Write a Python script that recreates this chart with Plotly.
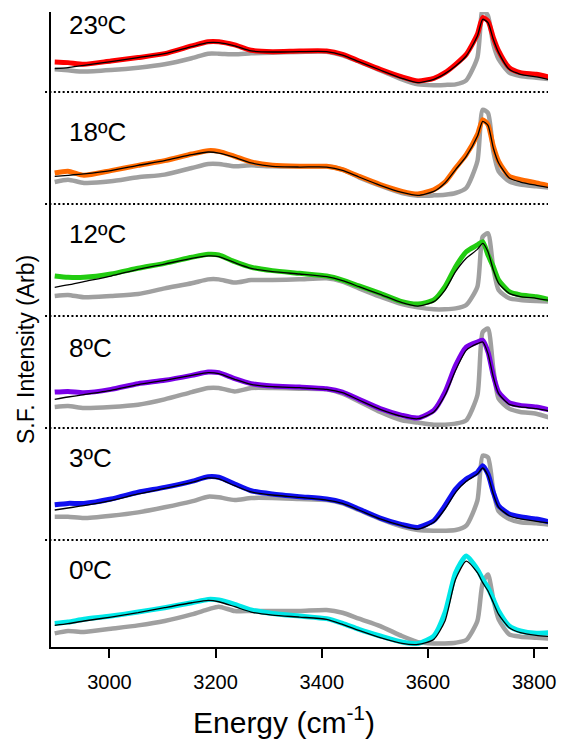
import plotly.graph_objects as go

energy = [2897, 2922, 2952, 3003, 3054, 3104, 3155, 3186, 3206, 3236, 3267, 3307,
          3358, 3409, 3439, 3470, 3510, 3551, 3581, 3611, 3632, 3652, 3672, 3693,
          3703, 3713, 3723, 3733, 3753, 3774, 3804, 3832]

temps = ["23", "18", "12", "8", "3", "0"]

data_23 = [26.8, 26.2, 24.7, 27.7, 30.7, 34.2, 41.1, 44.9, 44.9, 42.0, 37.2, 36.0, 36.6, 36.6, 33.6, 27.7,
           20.2, 13.4, 9.8, 12.2, 17.3, 24.7, 33.6, 51.5, 66.4, 63.4, 48.5, 36.6, 21.7, 17.3, 15.8, 12.8]
fit_23 = [20.8, 21.7, 23.8, 27.1, 30.7, 34.2, 40.5, 44.0, 44.0, 41.1, 36.6, 35.7, 36.0, 36.0, 33.0, 27.1,
          19.6, 12.2, 8.3, 11.3, 16.4, 23.2, 32.1, 50.0, 64.9, 61.9, 47.0, 35.1, 20.2, 15.8, 13.4, 10.7]
ref_23 = [20.2, 19.3, 18.2, 19.6, 21.7, 24.7, 30.1, 34.2, 34.2, 33.6, 34.5, 35.1, 35.7, 36.0, 32.7, 27.1,
          19.3, 11.3, 6.8, 6.0, 6.3, 6.8, 10.4, 30.7, 73.8, 67.9, 42.6, 29.2, 17.3, 14.3, 12.8, 11.3]

data_18 = [27.7, 29.2, 25.6, 29.8, 34.5, 38.7, 44.6, 47.6, 47.0, 42.6, 37.5, 34.5, 33.6, 33.6, 30.7, 24.7,
           17.3, 11.3, 8.9, 12.8, 19.6, 32.1, 44.0, 61.9, 75.3, 70.8, 51.5, 38.1, 24.7, 21.7, 18.8, 15.8]
fit_18 = [24.7, 25.6, 26.8, 29.8, 34.5, 38.7, 44.0, 46.4, 45.5, 41.7, 36.6, 33.6, 33.0, 33.0, 30.1, 24.1,
          16.7, 10.4, 7.7, 11.3, 18.8, 30.7, 42.6, 60.4, 73.8, 70.2, 50.0, 36.6, 23.2, 19.6, 16.7, 14.3]
ref_18 = [19.6, 21.7, 18.8, 20.2, 23.8, 26.2, 32.1, 35.7, 35.7, 33.6, 34.5, 33.6, 33.6, 33.6, 30.7, 23.8,
          16.4, 9.8, 7.4, 7.7, 8.3, 9.8, 14.3, 38.1, 84.2, 81.2, 47.0, 29.2, 20.2, 17.3, 15.8, 14.3]

data_12 = [35.7, 34.5, 34.5, 37.5, 42.6, 47.0, 52.4, 55.1, 54.5, 48.5, 43.5, 40.5, 38.1, 35.7, 32.1, 26.8,
           20.2, 12.8, 10.7, 14.3, 26.2, 44.0, 57.4, 63.4, 66.4, 54.5, 44.0, 32.1, 21.7, 18.8, 17.3, 14.3]
fit_12 = [25.6, 27.7, 30.7, 35.7, 41.7, 46.4, 51.5, 53.6, 53.0, 47.6, 42.6, 39.6, 37.5, 35.1, 31.5, 26.2,
          19.3, 11.9, 8.9, 12.8, 23.2, 39.6, 51.5, 59.5, 64.9, 57.4, 41.1, 29.2, 20.2, 17.3, 15.8, 13.7]
ref_12 = [17.9, 18.8, 16.7, 17.9, 19.6, 24.7, 29.2, 32.7, 32.7, 29.8, 32.1, 32.1, 32.7, 33.6, 30.7, 24.7,
          17.3, 10.7, 7.7, 6.0, 6.0, 6.8, 9.8, 26.2, 70.8, 73.8, 42.6, 23.2, 15.8, 14.3, 13.4, 12.8]

data_8 = [32.1, 32.7, 31.5, 34.5, 39.6, 42.6, 47.0, 50.0, 49.4, 44.0, 39.6, 37.5, 36.6, 35.1, 32.1, 25.6,
          17.3, 11.3, 8.9, 15.8, 32.1, 56.0, 72.3, 76.8, 78.3, 67.9, 47.0, 32.1, 22.6, 20.2, 18.8, 15.8]
fit_8 = [25.6, 27.7, 29.8, 33.6, 38.7, 42.6, 47.0, 49.4, 48.5, 43.5, 39.0, 36.9, 36.0, 34.5, 31.5, 25.0,
         16.7, 10.4, 8.3, 14.3, 29.2, 51.5, 69.3, 75.3, 76.8, 66.4, 45.5, 30.7, 21.1, 18.8, 17.3, 14.9]
ref_8 = [18.8, 19.6, 17.9, 18.8, 20.8, 25.6, 32.1, 35.7, 35.7, 32.7, 35.7, 35.7, 35.1, 34.5, 30.7, 23.8,
         14.3, 6.8, 4.8, 3.0, 3.0, 3.9, 6.8, 29.2, 85.7, 88.7, 53.0, 26.2, 17.3, 14.3, 12.8, 8.9]

data_3 = [31.5, 32.7, 32.7, 36.6, 42.6, 47.0, 52.4, 56.5, 56.0, 50.0, 44.0, 41.1, 38.7, 36.6, 33.6, 27.7,
          19.6, 13.7, 11.3, 17.3, 30.7, 45.5, 54.5, 60.4, 66.4, 58.9, 42.6, 30.7, 23.2, 20.8, 18.8, 15.8]
fit_3 = [26.8, 28.6, 30.7, 35.1, 41.1, 46.1, 51.5, 55.4, 54.5, 48.5, 42.9, 40.2, 38.1, 35.7, 32.7, 26.8,
         18.8, 12.8, 9.8, 15.8, 27.7, 42.6, 52.4, 58.9, 64.3, 57.4, 41.1, 29.2, 21.7, 18.8, 16.7, 14.9]
ref_3 = [20.8, 20.8, 19.6, 21.7, 24.7, 29.2, 34.5, 38.7, 38.1, 35.7, 37.5, 37.5, 36.6, 35.7, 32.7, 26.8,
         18.8, 11.9, 8.9, 8.3, 8.3, 8.9, 12.8, 35.1, 75.3, 73.8, 44.0, 25.6, 18.8, 15.8, 14.9, 13.7]

data_0 = [25.6, 26.8, 29.2, 32.1, 35.7, 39.6, 44.0, 47.0, 46.4, 42.6, 37.5, 34.5, 32.1, 29.8, 25.6, 20.2,
          14.3, 8.9, 7.7, 14.3, 35.1, 70.8, 85.7, 73.8, 64.9, 57.4, 47.0, 36.6, 23.2, 18.8, 16.7, 17.3]
fit_0 = [23.8, 25.3, 27.7, 31.2, 35.1, 39.6, 44.0, 46.1, 44.9, 40.5, 35.7, 33.0, 31.2, 29.2, 24.7, 19.3,
         12.8, 7.7, 6.8, 11.3, 27.7, 64.9, 81.2, 70.8, 61.9, 54.5, 44.0, 33.6, 21.7, 17.3, 14.9, 13.7]
ref_0 = [16.7, 18.8, 17.9, 20.8, 23.8, 27.7, 33.6, 38.1, 40.5, 36.6, 36.6, 36.6, 36.6, 37.5, 35.1, 29.8,
         23.2, 14.3, 8.9, 7.7, 7.7, 8.3, 10.7, 27.7, 61.9, 69.3, 47.0, 29.2, 15.8, 13.7, 12.8, 11.9]

series = {
    "23": (data_23, fit_23, ref_23),
    "18": (data_18, fit_18, ref_18),
    "12": (data_12, fit_12, ref_12),
    "8": (data_8, fit_8, ref_8),
    "3": (data_3, fit_3, ref_3),
    "0": (data_0, fit_0, ref_0),
}

colors = {"23": "#ff0000", "18": "#ff6a00", "12": "#22cc11", "8": "#7a00e8",
          "3": "#1010f0", "0": "#00e8e8"}
offsets = {"23": 5, "18": 4, "12": 3, "8": 2, "3": 1, "0": 0}
label_h = {"23": 0.60, "18": 0.64, "12": 0.73, "8": 0.71, "3": 0.73, "0": 0.73}

fig = go.Figure()
for t in temps:
    d, f, r = series[t]
    off = offsets[t]
    fig.add_trace(go.Scatter(x=energy, y=[off + v / 100 for v in r], mode="lines",
                             line=dict(color="#a0a0a0", width=4.5, shape="spline", smoothing=0.6),
                             hoverinfo="skip", showlegend=False))
    fig.add_trace(go.Scatter(x=energy, y=[off + v / 100 for v in d], mode="lines",
                             line=dict(color=colors[t], width=5, shape="spline", smoothing=0.6),
                             showlegend=False))
    fig.add_trace(go.Scatter(x=energy, y=[off + v / 100 for v in f], mode="lines",
                             line=dict(color="black", width=1.3, shape="spline", smoothing=0.6),
                             showlegend=False))
    fig.add_annotation(x=2921, y=off + label_h[t], xref="x", yref="y", text=t + "ºC",
                       showarrow=False, xanchor="left", yanchor="middle",
                       font=dict(size=26, color="black", family="Liberation Sans, Arial"))

for k in range(1, 6):
    fig.add_shape(type="line", xref="paper", yref="y", x0=-0.012, x1=1.0, y0=k, y1=k,
                  line=dict(color="black", width=2, dash="2px,2.4px"))

fig.add_annotation(x=-0.05, y=0.468, xref="paper", yref="paper", text="S.F. Intensity (Arb)",
                   textangle=-90, showarrow=False, xanchor="center", yanchor="middle",
                   font=dict(size=23, color="black", family="Liberation Sans, Arial"))
fig.add_annotation(x=0.469, y=-0.115, xref="paper", yref="paper", text="Energy (cm<sup>-1</sup>)",
                   showarrow=False, xanchor="center", yanchor="middle",
                   font=dict(size=30, color="black", family="Liberation Sans, Arial"))

fig.update_layout(
    width=568, height=748,
    margin=dict(l=51, r=12, t=12, b=101),
    plot_bgcolor="white", paper_bgcolor="white",
    font=dict(family="Liberation Sans, Arial", color="black"),
)
fig.update_xaxes(range=[2890, 3826], tickvals=[3000, 3200, 3400, 3600, 3800],
                 ticks="outside", ticklen=9, tickwidth=1.5, tickcolor="black",
                 showline=True, linecolor="black", linewidth=2, showgrid=False, zeroline=False,
                 tickfont=dict(size=20, family="Liberation Sans, Arial"), ticklabelstandoff=7)
fig.update_yaxes(range=[0.045, 5.714], showline=True, linecolor="black", linewidth=2,
                 showticklabels=False, ticks="", showgrid=False, zeroline=False)

fig.write_html("out.html")
